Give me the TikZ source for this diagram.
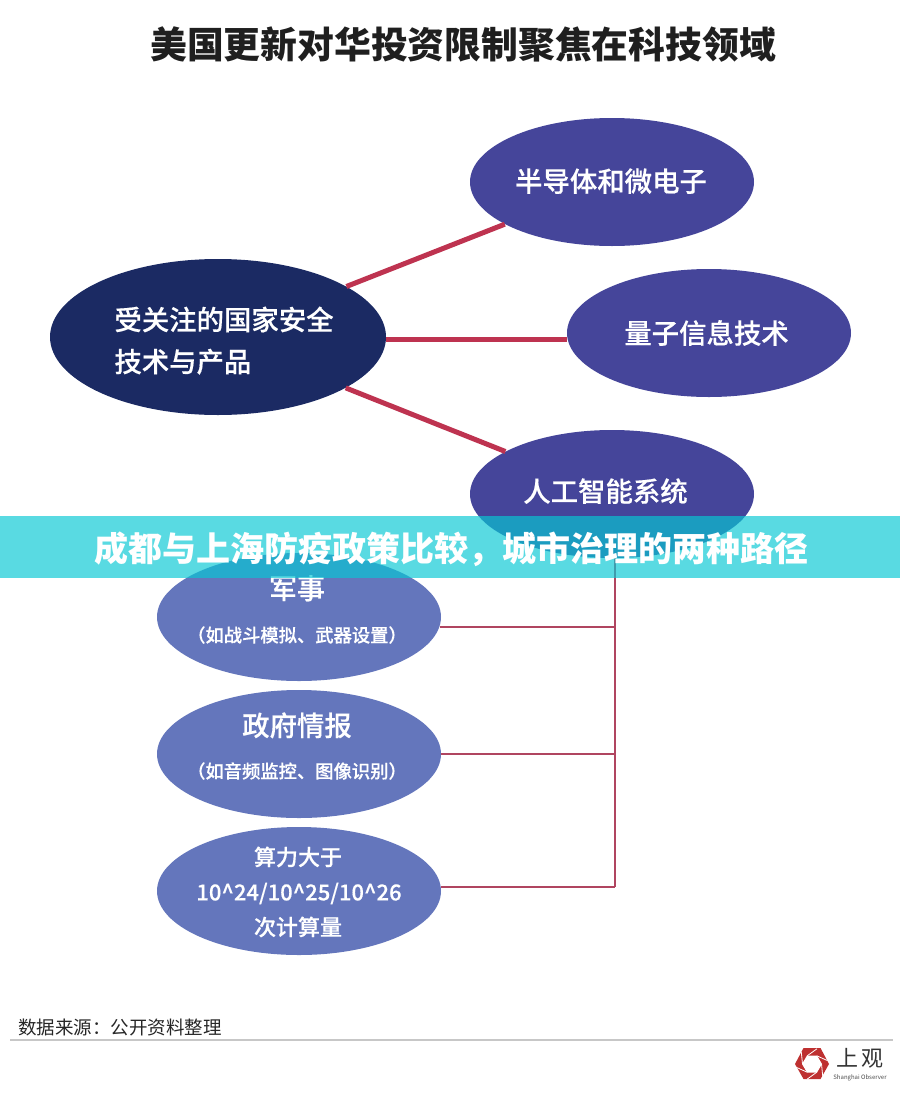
\documentclass[tikz,border=0pt]{standalone}
\usepackage{fontspec}
\setmainfont{Noto Sans CJK SC}
\newfontfamily\medfont[FakeBold=0.35]{Noto Sans CJK SC Medium}
\usetikzlibrary{shapes.geometric}
\newcommand{\fsize}[2]{\fontsize{#1}{#2}\selectfont}
\newcommand{\nudge}[1]{\rule{#1pt}{0pt}}
\definecolor{navyell}{HTML}{1B2A63}
\definecolor{purpell}{HTML}{45459A}
\definecolor{blueell}{HTML}{6476BC}
\definecolor{redline}{HTML}{BE3350}
\definecolor{busline}{HTML}{B04560}
\definecolor{bannerc}{RGB}{7,200,212}
\definecolor{logored}{HTML}{BE3030}

\begin{document}
\begin{tikzpicture}[x=1pt,y=-1pt,node distance=137pt,
	topell/.style={ellipse,fill=purpell,text=white,inner sep=0pt,minimum width=284pt,minimum height=128pt,font=\medfont\fsize{27.4}{34}},
	lowell/.style={ellipse,fill=blueell,text=white,inner xsep=-14pt,inner ysep=0pt,minimum width=284pt,minimum height=128pt,align=center},
	thick link/.style={line width=5pt,draw=redline},
	thin link/.style={line width=2pt,draw=busline}]
	\useasboundingbox (0,0) rectangle (900,1095);

	\node[font=\bfseries\fsize{36.8}{40},text=black!88] (title) at (463,45) {美国更新对华投资限制聚焦在科技领域};

	\node[topell,fill=navyell,minimum width=336pt,minimum height=156pt,align=left,text height=70pt,text depth=0pt] (main) at (218,337)
		{\hspace*{12pt}受关注的国家安全\\[8pt]\hspace*{12pt}技术与产品};
	\node[topell,text depth=4pt] (q1) at (612,182) {半导体和微电子\nudge{2}};
	\node[topell] (q2) at (709,333) {量子信息技术\nudge{5}};
	\node[topell,text depth=8pt] (q3) [below of=q1,node distance=312pt] {人工智能系统\nudge{13}};

	\node[lowell,text height=70pt,text depth=20pt] (mil) at (299,617)
		{\medfont\fsize{28}{34}军事\nudge{4}\\[24pt]\medfont\fsize{18.3}{22}（如战斗模拟、武器设置）\nudge{4}};
	\node[lowell,text height=68pt,text depth=20pt] (gov) [below of=mil]
		{\medfont\fsize{27.4}{34}政府情报\nudge{4}\\[23pt]\medfont\fsize{18.3}{22}（如音频监控、图像识别）\nudge{4}};
	\node[lowell,font=\medfont\fsize{22}{35},text depth=0pt] (calc) [below of=gov]
		{算力大于\nudge{2}\\10\textasciicircum 24/10\textasciicircum 25/10\textasciicircum 26\\次计算量\nudge{2}};

	\coordinate (busend) at (615,887);

	\draw [thick link] (main) -- (q1);
	\draw [thick link] (main.-1) -- (main.-1 -| q2.west);
	\draw [thick link] (main) -- (q3);
	\draw [thin link] (q3.south -| busend) -- (busend);
	\draw [thin link] (mil.-4) -- (mil.-4 -| busend);
	\draw [thin link] (gov.east) -- (gov.east -| busend);
	\draw [thin link] (busend -| calc.east) -- (busend);

	\node[anchor=west,font=\fsize{18.5}{22},text=black!85,inner sep=0pt] (source) at (18,1027) {数据来源：公开资料整理};
	\coordinate (rulea) at (10,1040);
	\coordinate (ruleb) at (893,1040);
	\draw [line width=1.6pt,draw=black!22] (rulea) -- (ruleb);

	\fill [logored] (829,1064) -- (820.5,1079) -- (803.5,1079) -- (795,1064) -- (803.5,1048) -- (820.5,1048) -- cycle;
	\fill [white] (822,1064) -- (817,1072.5) -- (807,1072.5) -- (802,1064) -- (807,1055.5) -- (817,1055.5) -- cycle;
	\foreach \a in {0,60,...,300}
		\draw [white,line width=.8pt] ([shift={(812,1064)}]\a:9.5) -- ([shift={(812,1064)}]\a+48:16);
	\node[font=\fsize{22}{24},text=black!80,inner sep=0pt] (logoname) at (860,1058) {上\hspace{4pt}观};
	\node[font=\fsize{6}{7},text=black!70,inner sep=0pt] (logosub) at (860,1078) {Shanghai Observer};

	\fill [bannerc,fill opacity=.67] (0,516) rectangle (900,578);
	\node[font=\bfseries\fsize{34}{36},text=white] (banner) at (451,549) {成都与上海防疫政策比较，城市治理的两种路径};
\end{tikzpicture}
\end{document}
